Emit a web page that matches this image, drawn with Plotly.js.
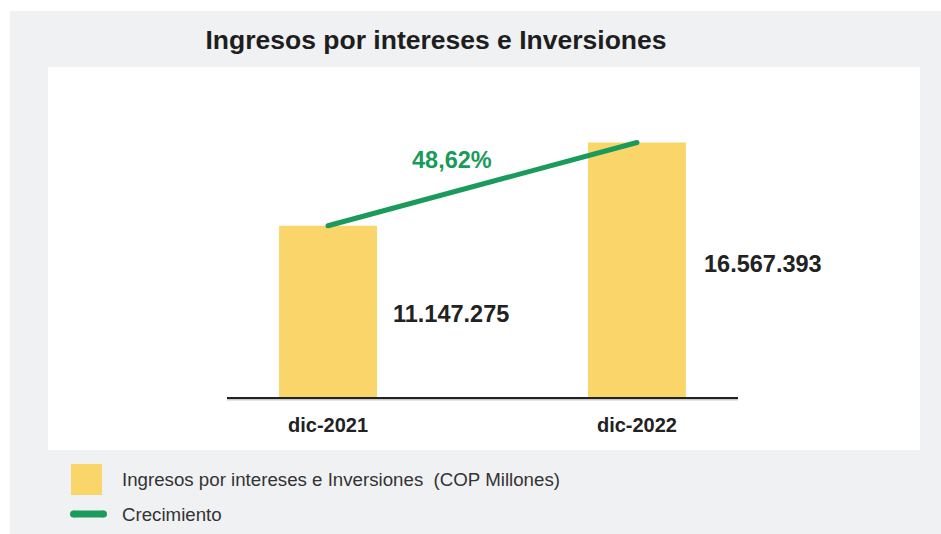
<!DOCTYPE html>
<html>
<head>
<meta charset="utf-8">
<script src="https://cdn.plot.ly/plotly-3.0.1.min.js"></script>
<style>
  html, body { margin: 0; padding: 0; background: #ffffff; }
  #chart { width: 941px; height: 534px; }
</style>
</head>
<body>
<div id="chart"></div>
<script>
// ---- data ----
const categories = ['dic-2021', 'dic-2022'];
const ingresos = [11147275, 16567393];
const barSeriesName = 'Ingresos por intereses e Inversiones\u00a0 (COP Millones)';
const lineSeriesName = 'Crecimiento';
const chartTitle = 'Ingresos por intereses e Inversiones';

// ---- helpers ----
function fmtMiles(v) {
  return String(Math.round(v)).replace(/\B(?=(\d{3})+(?!\d))/g, '.');
}
const growthPct = (ingresos[1] / ingresos[0] - 1) * 100;
const growthText = growthPct.toFixed(2).replace('.', ',') + '%';

// pixel -> paper helpers (plot area: x 227..738, y 67..397)
const W = 941, H = 534, ML = 227, MR = 203, MT = 67, MB = 137;
const PW = W - ML - MR, PH = H - MT - MB;
const px = x => (x - ML) / PW;
const py = y => (H - MB - y) / PH;

const FONT = '"Liberation Sans", Arial, Helvetica, sans-serif';
const YELLOW = '#fad66a';
const GREEN = '#1a9a5b';
const GRAY = '#f0f1f3';
const DARK = '#222222';

const traces = [
  {
    type: 'bar',
    name: barSeriesName,
    x: categories,
    y: ingresos,
    width: 0.317,
    marker: { color: YELLOW },
    hoverinfo: 'skip',
    showlegend: false
  },
  {
    type: 'scatter',
    mode: 'lines+markers',
    name: lineSeriesName,
    x: categories,
    y: ingresos,
    line: { color: GREEN, width: 5 },
    marker: { color: GREEN, size: 5 },
    hoverinfo: 'skip',
    showlegend: false
  }
];

const shapes = [
  // gray card
  { type: 'rect', xref: 'paper', yref: 'paper', layer: 'below',
    x0: px(10), x1: px(945), y0: py(540), y1: py(11),
    fillcolor: GRAY, line: { width: 0 } },
  // white panel
  { type: 'rect', xref: 'paper', yref: 'paper', layer: 'below',
    x0: px(48), x1: px(920), y0: py(450), y1: py(67),
    fillcolor: '#ffffff', line: { width: 0 } },
  // axis shadow
  { type: 'line', xref: 'paper', yref: 'paper', layer: 'below',
    x0: 0, x1: 1, y0: py(399.5), y1: py(399.5),
    line: { color: '#c9c9c9', width: 2 } },
  // legend: yellow square
  { type: 'rect', xref: 'paper', yref: 'paper',
    x0: px(71), x1: px(102), y0: py(495), y1: py(464),
    fillcolor: YELLOW, line: { width: 0 } },
  // legend: green line with rounded ends
  { type: 'line', xref: 'paper', yref: 'paper',
    x0: px(73.5), x1: px(103.5), y0: py(514), y1: py(514),
    line: { color: GREEN, width: 7 } },
  { type: 'circle', xref: 'paper', yref: 'paper',
    x0: px(70), x1: px(77), y0: py(517.5), y1: py(510.5),
    fillcolor: GREEN, line: { width: 0 } },
  { type: 'circle', xref: 'paper', yref: 'paper',
    x0: px(100), x1: px(107), y0: py(517.5), y1: py(510.5),
    fillcolor: GREEN, line: { width: 0 } }
];

const annotations = [
  { xref: 'paper', yref: 'paper', x: px(450.5), y: py(313.5),
    text: '<b>' + fmtMiles(ingresos[0]) + '</b>', showarrow: false,
    xanchor: 'center', yanchor: 'middle',
    font: { family: FONT, size: 23.5, color: DARK } },
  { xref: 'paper', yref: 'paper', x: px(762.5), y: py(263.5),
    text: '<b>' + fmtMiles(ingresos[1]) + '</b>', showarrow: false,
    xanchor: 'center', yanchor: 'middle',
    font: { family: FONT, size: 23.5, color: DARK } },
  { xref: 'paper', yref: 'paper', x: px(452), y: py(159.5),
    text: '<b>' + growthText + '</b>', showarrow: false,
    xanchor: 'center', yanchor: 'middle',
    font: { family: FONT, size: 23.5, color: GREEN } },
  // legend texts
  { xref: 'paper', yref: 'paper', x: px(120), y: py(479),
    text: barSeriesName, showarrow: false,
    xanchor: 'left', yanchor: 'middle',
    font: { family: FONT, size: 18.7, color: '#333333' } },
  { xref: 'paper', yref: 'paper', x: px(120), y: py(514),
    text: lineSeriesName, showarrow: false,
    xanchor: 'left', yanchor: 'middle',
    font: { family: FONT, size: 18.7, color: '#333333' } }
];

const layout = {
  width: W, height: H,
  margin: { l: ML, r: MR, t: MT, b: MB, pad: 0 },
  paper_bgcolor: '#ffffff',
  plot_bgcolor: 'rgba(0,0,0,0)',
  showlegend: false,
  title: {
    text: '<b>' + chartTitle + '</b>',
    font: { family: FONT, size: 26.5, color: '#1e1e1e' },
    xref: 'paper', x: px(436), xanchor: 'center',
    yref: 'container', y: 1 - 40 / H, yanchor: 'middle'
  },
  xaxis: {
    type: 'category',
    range: [-0.327, 1.327],
    showline: true, linecolor: DARK, linewidth: 2,
    showgrid: false, zeroline: false,
    ticks: '',
    tickfont: { family: FONT, size: 20, color: DARK },
    ticklabelstandoff: 9,
    tickprefix: '<b>', ticksuffix: '</b>',
    fixedrange: true
  },
  yaxis: {
    range: [0, 21480000],
    visible: false,
    showgrid: false, zeroline: false,
    fixedrange: true
  },
  shapes: shapes,
  annotations: annotations
};

Plotly.newPlot('chart', traces, layout, { displayModeBar: false, staticPlot: true });
</script>
</body>
</html>
